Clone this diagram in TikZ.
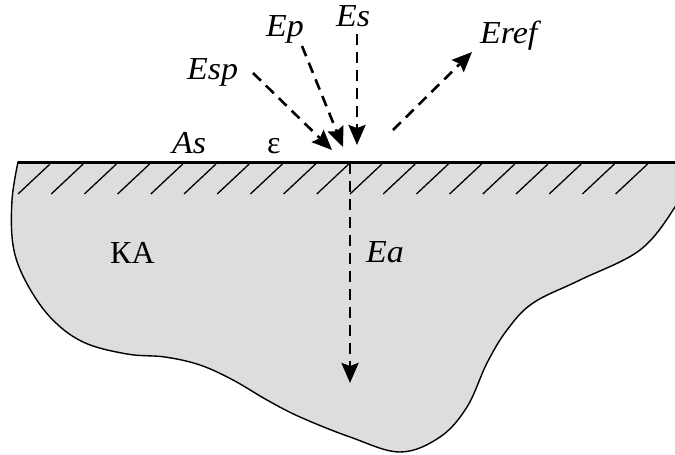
\documentclass[tikz,border=0pt]{standalone}
\usepackage{fontspec}
\usepackage{graphicx}
\setmainfont{Liberation Serif}
\usetikzlibrary{arrows.meta}
\definecolor{bodyfill}{RGB}{221,221,221}
\begin{document}
\begin{tikzpicture}[x=1pt,y=-1pt,
  lbl/.style={inner sep=0pt,font=\fontsize{32}{34}\selectfont},
  ray/.style={line width=2.6pt,dash pattern=on 11pt off 7pt,
    -{Stealth[length=20pt,width=17pt,inset=3pt]}},
  hatchline/.style={line width=1.3pt},
  outline/.style={fill=bodyfill,line width=1.4pt},
  surface/.style={line width=3pt}]
\useasboundingbox (0,0) rectangle (675,455);
\clip (0,0) rectangle (675,455);
% body
\draw[outline] plot[smooth,tension=0.6] coordinates {(18,162) (12,200) (13,245) (25,280) (50,317) (83,342) (127,354) (165,357) (200,365) (233,380) (267,400) (300,417) (350,437) (400,452) (440,437) (467,407) (487,363) (507,330) (533,303) (580,280) (640,250) (675,207) (690,175)} -- (700,162) -- cycle;
% hatching
\foreach \k in {0,...,18}{
  \draw[hatchline] ({50+33.2*\k},164) -- ({18+33.2*\k},194);
}
% surface
\coordinate (sL) at (18,162);
\coordinate (sR) at (680,162);
\draw[surface] (sL) -- (sR);
% labels
\node[lbl,anchor=base west] (esp) at (187,79) {\scalebox{1.06}[1]{\textit{Esp}}};
\node[lbl,anchor=base west] (ep) at (266,36) {\scalebox{1.06}[1]{\textit{Ep}}};
\node[lbl,anchor=base west] (es) at (336,27) {\scalebox{1.06}[1]{\textit{Es}}};
\node[lbl,anchor=base west] (eref) at (480,43) {\scalebox{1.06}[1]{\textit{Eref}}};
\node[lbl,anchor=base west] (as) at (172,153) {\scalebox{1.06}[1]{\textit{As}}};
\node[lbl,anchor=base west] (eps) at (267,153) {ε};
\node[lbl,anchor=base west] (ka) at (110,263) {КА};
\node[lbl,anchor=base west] (ea) at (366,262) {\scalebox{1.06}[1]{\textit{Ea}}};
% rays
\coordinate (espS) at (253,73);
\coordinate (espT) at (332,150);
\coordinate (epS) at (302,46);
\coordinate (epT) at (343,147);
\coordinate (esS) at (357,34);
\coordinate (esT) at (357,145);
\coordinate (erS) at (393,130);
\coordinate (erT) at (472,52);
\coordinate (eaS) at (350,163);
\coordinate (eaT) at (350,383);
\draw[ray] (espS) -- (espT);
\draw[ray] (epS) -- (epT);
\draw[ray] (esS) -- (esT);
\draw[ray] (erS) -- (erT);
\draw[ray] (eaS) -- (eaT);
\end{tikzpicture}
\end{document}
